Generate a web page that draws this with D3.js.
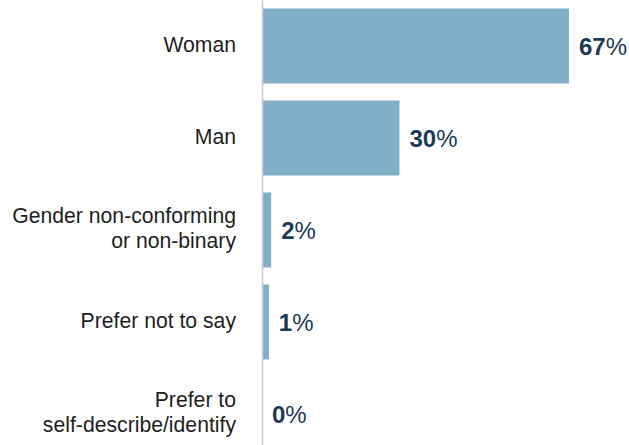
<!DOCTYPE html>
<html>
<head>
<meta charset="utf-8">
<script src="https://cdn.jsdelivr.net/npm/d3@7"></script>
<style>
  html, body { margin: 0; padding: 0; background: #fff; }
  svg { display: block; }
</style>
</head>
<body>
<svg id="chart" width="629" height="445"></svg>
<script>
const categories = [
  ["Woman"],
  ["Man"],
  ["Gender non-conforming", "or non-binary"],
  ["Prefer not to say"],
  ["Prefer to", "self-describe/identify"]
];
const values = [67, 30, 2, 1.5, 0];
const valueLabels = ["67", "30", "2", "1", "0"];

const W = 629, H = 445;
const svg = d3.select("#chart");
const ids = d3.range(values.length);

const y = d3.scaleBand().domain(ids).range([0, 460]).paddingInner(0.185).paddingOuter(0.0925);
const x = d3.scaleLinear().domain([0, 67]).range([262, 569]);

svg.append("g").selectAll("rect").data(ids).join("rect")
  .attr("x", x(0))
  .attr("y", i => y(i))
  .attr("width", i => x(values[i]) - x(0))
  .attr("height", y.bandwidth())
  .attr("fill", "#81afc7");

const axis = svg.append("g")
  .attr("transform", `translate(${x(0)},0)`)
  .call(d3.axisLeft(y).tickSize(0).tickFormat(""));
axis.select(".domain").attr("stroke", "#c9cdd9").attr("stroke-width", 1.6);

const labels = svg.append("g")
  .attr("font-family", "'Liberation Sans', Arial, sans-serif")
  .attr("font-size", 21.2)
  .attr("fill", "#1e1e1e")
  .attr("text-anchor", "end");
ids.forEach(i => {
  const lines = categories[i];
  const c = y(i) + y.bandwidth() / 2;
  const lh = 25;
  const t = labels.append("text").attr("x", 236);
  lines.forEach((l, k) => {
    t.append("tspan").attr("x", 236)
      .attr("y", c + 5.5 + (k - (lines.length - 1) / 2) * lh)
      .text(l);
  });
});

const vals = svg.append("g")
  .attr("font-family", "'Liberation Sans', Arial, sans-serif")
  .attr("font-size", 24)
  .attr("fill", "#1b3a57");
ids.forEach(i => {
  const t = vals.append("text")
    .attr("x", x(values[i]) + 10)
    .attr("y", y(i) + y.bandwidth() / 2 + 8.5);
  t.append("tspan").attr("font-weight", "bold").text(valueLabels[i]);
  t.append("tspan").attr("font-weight", "normal").text("%");
});
</script>
</body>
</html>
